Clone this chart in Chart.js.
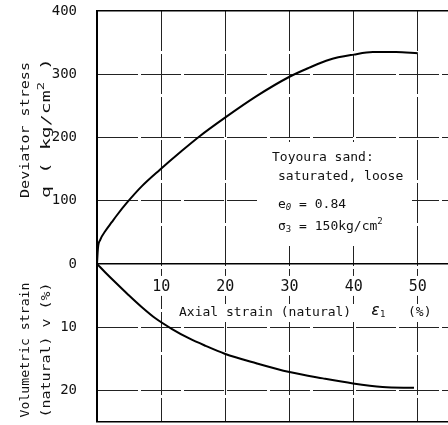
<!DOCTYPE html>
<html>
<head>
<meta charset="utf-8">
<script src="https://cdn.jsdelivr.net/npm/chart.js@4"></script>
<style>
  html, body { margin: 0; padding: 0; background: #fff; }
  #c { display: block; }
</style>
</head>
<body>
<canvas id="c" width="448" height="425"></canvas>
<script>
// deviator stress curve: axial strain (%) vs q (kg/cm2)
const axialQ = [0, 0.15, 0.5, 1.3, 2.3, 3.1, 4.6, 7, 9.8, 13, 16, 19.9, 24.8, 30, 33, 36.2, 40, 43, 46.6, 50];
const deviator = [0, 25, 38, 52, 66, 77, 96, 123, 149, 177, 202, 231, 265, 296, 310, 323, 331, 335, 335, 333];
// volumetric strain curve: axial strain (%) vs v (%)
const axialV = [0, 1.3, 2.85, 4.9, 7.0, 9.1, 11.7, 14.3, 16.9, 19.9, 24.8, 30, 35.2, 39.9, 44.5, 49.4];
const volumetric = [0, 1.35, 2.9, 4.9, 6.85, 8.6, 10.3, 11.75, 12.95, 14.2, 15.7, 17.1, 18.1, 18.9, 19.45, 19.6];

const xTicks = [10, 20, 30, 40, 50];
const stressTicks = [400, 300, 200, 100, 0];
const volTicks = [10, 20];

// one y scale: stress upward, volumetric strain downward (10 % = 100 units)
const VOL_SCALE = 10;
const FONT = '"DejaVu Sans Mono", monospace';
const DASH = [40, 3];

function runs(c, x, y, parts) {
  parts.forEach((p) => {
    c.font = `${p.style || ""} ${p.size || 13}px ${FONT}`;
    c.fillText(p.t, x, y + (p.dy || 0));
    x += c.measureText(p.t).width;
  });
}

function vtext(c, cx, cy, width, parts) {
  c.save();
  c.translate(cx, cy);
  c.rotate(-Math.PI / 2);
  let w = 0;
  parts.forEach((p) => {
    c.font = `${p.style || ""} ${p.size || 13}px ${FONT}`;
    w += c.measureText(p.t).width;
  });
  c.scale(width / w, 1);
  runs(c, -w / 2, 0, parts);
  c.restore();
}

const notes = {
  id: "notes",
  beforeDatasetsDraw(chart) {
    const c = chart.ctx;
    const xs = chart.scales.x;
    const y0 = chart.scales.y.getPixelForValue(0);
    c.save();
    c.fillStyle = "#fff";
    c.fillRect(257, 142, 155, 104);
    xTicks.forEach((v) => c.fillRect(xs.getPixelForValue(v) - 11, y0 + 12, 22, 20));
    c.fillRect(175, 304, 262, 18);

    c.fillStyle = "#111";
    c.textBaseline = "middle";
    runs(c, 272, 158, [{ t: "Toyoura sand:" }]);
    runs(c, 278, 177, [{ t: "saturated, loose" }]);
    runs(c, 278, 205, [{ t: "e" }, { t: "0", size: 9, dy: 3, style: "italic" }, { t: " = 0.84" }]);
    runs(c, 278, 227, [{ t: "σ" }, { t: "3", size: 9, dy: 3 }, { t: " = 150kg/cm" }, { t: "2", size: 9, dy: -5 }]);

    runs(c, 179, 313, [{ t: "Axial strain (natural)" }]);
    runs(c, 371, 311, [{ t: "ε", size: 15, style: "italic" }, { t: "1", size: 9, dy: 4 }]);
    runs(c, 408, 313, [{ t: "(%)" }]);

    vtext(c, 26, 130, 136, [{ t: "Deviator stress" }]);
    vtext(c, 47, 128, 140, [{ t: "q ( kg/cm" }, { t: "2", size: 9, dy: -5 }, { t: " )" }]);
    vtext(c, 26, 350, 135, [{ t: "Volumetric strain" }]);
    vtext(c, 47, 350, 135, [{ t: "(natural) v (%)" }]);
    c.restore();
  },
};

const ctx = document.getElementById("c").getContext("2d");

new Chart(ctx, {
  type: "line",
  data: {
    datasets: [
      {
        data: axialQ.map((x, i) => ({ x, y: deviator[i] })),
        borderColor: "#000",
        borderWidth: 2,
        pointRadius: 0,
        cubicInterpolationMode: "monotone",
      },
      {
        data: axialV.map((x, i) => ({ x, y: -volumetric[i] * VOL_SCALE })),
        borderColor: "#000",
        borderWidth: 2,
        pointRadius: 0,
        cubicInterpolationMode: "monotone",
      },
    ],
  },
  options: {
    responsive: false,
    animation: false,
    devicePixelRatio: 1,
    layout: { padding: { top: 11, bottom: 3, left: 0, right: 0 } },
    plugins: {
      legend: { display: false },
      tooltip: { enabled: false },
    },
    scales: {
      x: {
        type: "linear",
        min: 0,
        max: 54.7,
        position: { y: 0 },
        afterBuildTicks: (s) => {
          s.ticks = [0, ...xTicks].map((v) => ({ value: v }));
        },
        ticks: {
          font: { family: FONT, size: 15 },
          color: "#111",
          padding: 14,
          maxRotation: 0,
          z: 1,
          callback: (v) => (v === 0 ? "" : v),
        },
        grid: {
          drawTicks: false,
          lineWidth: 1,
          color: (c) => (c.tick && c.tick.value === 0 ? "rgba(0,0,0,0)" : "#222"),
        },
        border: { color: "#000", width: 1.5, dash: DASH },
      },
      y: {
        type: "linear",
        min: -250,
        max: 400,
        afterBuildTicks: (s) => {
          s.ticks = [...stressTicks, ...volTicks.map((v) => -v * VOL_SCALE), -250].map((v) => ({ value: v }));
        },
        afterFit: (s) => {
          s.width = 97;
          s.paddingTop = 0;
          s.paddingBottom = 0;
        },
        ticks: {
          font: { family: FONT, size: 14 },
          color: "#111",
          padding: 20,
          callback: (v) => (v === -250 ? "" : v >= 0 ? v : -v / VOL_SCALE),
        },
        grid: {
          drawTicks: false,
          color: (c) => (c.tick && (c.tick.value === 400 || c.tick.value === -250) ? "#000" : "#222"),
          lineWidth: (c) => (c.tick && (c.tick.value === 400 || c.tick.value === -250) ? 1.5 : 1),
        },
        border: {
          color: "#000",
          width: 2,
          dash: (c) => (c.tick && (c.tick.value === 400 || c.tick.value === -250) ? [] : DASH),
        },
      },
    },
  },
  plugins: [notes],
});
</script>
</body>
</html>
